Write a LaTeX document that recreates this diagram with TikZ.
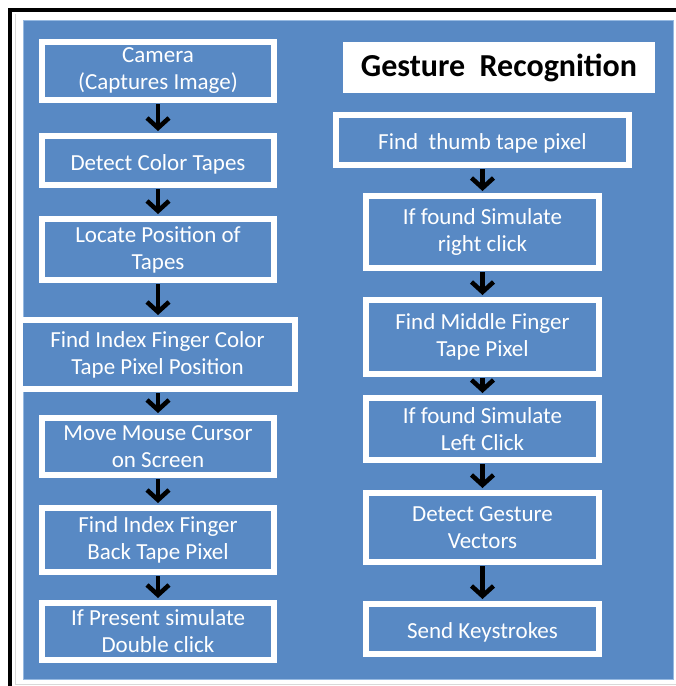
\documentclass[tikz,border=0pt]{standalone}
\usepackage{fontspec}
\setmainfont{Carlito}
\usepackage{tikz}
\usetikzlibrary{arrows.meta}
\usepackage{xcolor}
\definecolor{panelblue}{RGB}{88,137,196}
\definecolor{paneledge}{RGB}{150,185,225}

\begin{document}
\begin{tikzpicture}[x=1pt,y=-1pt,
  stepbox/.style={draw=white,line width=6pt,fill=panelblue,text=white,align=center,
    font=\fontsize{23}{27}\selectfont,inner sep=2pt,
    execute at begin node={\rule{0pt}{23pt}}},
  flowarrow/.style={line width=4.5pt,-{Straight Barb[length=10pt,width=22pt,line width=4.5pt]},
    shorten <=1pt,shorten >=2pt}]
\useasboundingbox (0,0) rectangle (676,686);
\fill[white] (0,0) rectangle (676,686);
\draw[black,line width=4pt] (676,10)--(10,10)--(10,686);
\draw[gray!30,line width=1pt] (15,14)--(15,684)--(676,684);
\draw[fill=panelblue,draw=paneledge,line width=1pt] (23,20) rectangle (673,679);

% left column
\node[stepbox,minimum width=232pt,minimum height=58pt] (cam) at (158,71) {Camera\\(Captures Image)};
\node[stepbox,minimum width=232pt,minimum height=49pt] (detect) at (158,160.5) {Detect Color Tapes};
\node[stepbox,minimum width=232pt,minimum height=61pt] (locate) at (158,249.5) {Locate Position of\\Tapes};
\node[stepbox,minimum width=275pt,minimum height=69pt] (index) at (157.5,354.5) {Find Index Finger Color\\Tape Pixel Position};
\node[stepbox,minimum width=232pt,minimum height=57pt] (mouse) at (158,446.5) {Move Mouse Cursor\\on Screen};
\node[stepbox,minimum width=232pt,minimum height=64pt] (back) at (158,540) {Find Index Finger\\Back Tape Pixel};
\node[stepbox,minimum width=232pt,minimum height=57pt] (double) at (158,631.5) {If Present simulate\\Double click};

% right column
\node[fill=white,minimum width=312pt,minimum height=51pt,font=\fontsize{32}{38}\selectfont\bfseries] (title) at (499,67.5) {Gesture~~Recognition};
\node[stepbox,minimum width=293pt,minimum height=50pt] (thumb) at (482.5,140) {Find~~thumb tape pixel};
\node[stepbox,minimum width=233pt,minimum height=72pt] (right) at (482.5,232) {If found Simulate\\right click};
\node[stepbox,minimum width=233pt,minimum height=74pt] (middle) at (482.5,337) {Find Middle Finger\\Tape Pixel};
\node[stepbox,minimum width=233pt,minimum height=62pt] (left) at (482.5,429) {If found Simulate\\Left Click};
\node[stepbox,minimum width=233pt,minimum height=69pt] (vectors) at (482.5,527.5) {Detect Gesture\\Vectors};
\node[stepbox,minimum width=233pt,minimum height=50pt] (keys) at (482.5,629) {Send Keystrokes};

\draw[flowarrow] (cam)--(detect);
\draw[flowarrow] (detect)--(locate);
\draw[flowarrow] (locate.south)--(locate.south|-index.north);
\draw[flowarrow] (index.south-|mouse.north)--(mouse);
\draw[flowarrow] (mouse)--(back);
\draw[flowarrow] (back)--(double);

\draw[flowarrow] (thumb)--(right);
\draw[flowarrow] (right)--(middle);
\draw[flowarrow] (middle)--(left);
\draw[flowarrow] (left)--(vectors);
\draw[flowarrow] (vectors)--(keys);

\end{tikzpicture}
\end{document}
